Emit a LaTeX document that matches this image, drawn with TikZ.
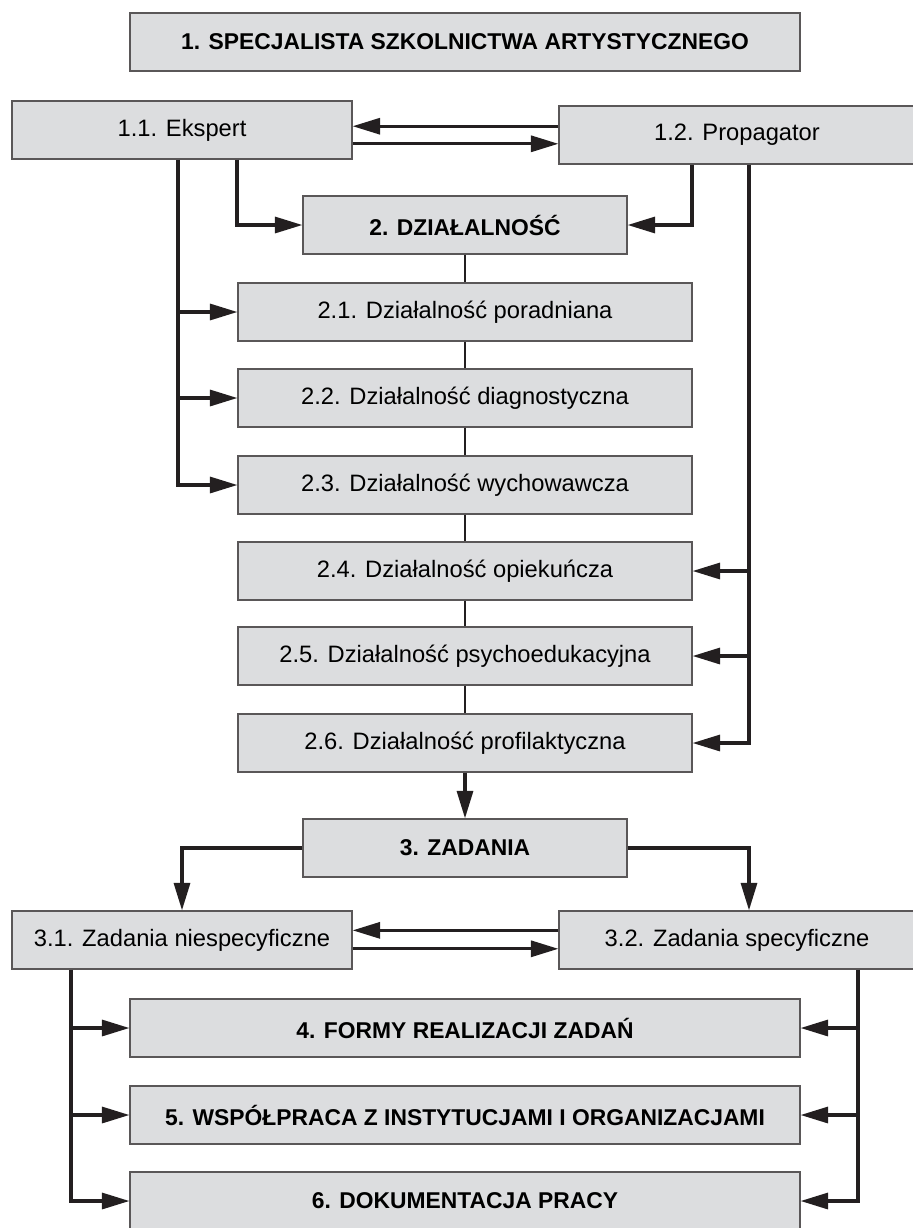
\documentclass[tikz,border=0pt]{standalone}
\usepackage{fontspec}
\setmainfont{Liberation Sans}
\usetikzlibrary{arrows.meta}
\definecolor{boxgray}{HTML}{DCDDDF}
\definecolor{ink}{HTML}{231F20}

\begin{document}
\begin{tikzpicture}[x=0.02cm, y=-0.02cm,
box/.style={draw=ink!75, fill=boxgray, line width=0.7pt, inner sep=0pt, minimum height=1.16cm, font=\fontsize{13.5}{16}\selectfont},
hbox/.style={box, font=\fontsize{13}{16}\selectfont\bfseries},
arr/.style={draw=ink, line width=1.8pt, -{Triangle[length=0.55cm,width=0.32cm]}},
link/.style={draw=ink, line width=1.4pt}]

\useasboundingbox (0,0) rectangle (913,1228);

% top
\node[hbox, minimum width=13.4cm] (spec) at (465,42) {1. SPECJALISTA SZKOLNICTWA ARTYSTYCZNEGO};

\node[box, minimum width=6.8cm] (ekspert) at (182,130) {1.1. Ekspert};
\node[box, minimum width=7.12cm] (propag) at (737,135) {1.2. Propagator};

\draw[arr] ([yshift=5pt]propag.west) -- ([yshift=5pt]propag.west -| ekspert.east);
\draw[arr] ([yshift=-5pt]propag.west -| ekspert.east) -- ([yshift=-5pt]propag.west);

% dzialalnosc
\node[hbox, minimum width=6.48cm] (dzial) at (465,225) {2. DZIAŁALNOŚĆ};

\node[box, minimum width=9.08cm] (d1) at (465,312) {2.1. Działalność poradniana};
\node[box, minimum width=9.08cm] (d2) at (465,398) {2.2. Działalność diagnostyczna};
\node[box, minimum width=9.08cm] (d3) at (465,485) {2.3. Działalność wychowawcza};
\node[box, minimum width=9.08cm] (d4) at (465,571) {2.4. Działalność opiekuńcza};
\node[box, minimum width=9.08cm] (d5) at (465,656) {2.5. Działalność psychoedukacyjna};
\node[box, minimum width=9.08cm] (d6) at (465,743) {2.6. Działalność profilaktyczna};

\draw[link] (dzial) -- (d1);
\draw[link] (d1) -- (d2);
\draw[link] (d2) -- (d3);
\draw[link] (d3) -- (d4);
\draw[link] (d4) -- (d5);
\draw[link] (d5) -- (d6);

\draw[arr] ([xshift=1.1cm]ekspert.south) |- (dzial.west);
\draw[arr] ([xshift=-0.9cm]propag.south) |- (dzial.east);

\coordinate (lt) at ([xshift=-0.08cm]ekspert.south);
\coordinate (rt) at ([xshift=0.24cm]propag.south);
\draw[arr] (lt) |- (d3.west);
\draw[arr] (lt |- d1.west) -- (d1.west);
\draw[arr] (lt |- d2.west) -- (d2.west);
\draw[arr] (rt) |- (d6.east);
\draw[arr] (rt |- d4.east) -- (d4.east);
\draw[arr] (rt |- d5.east) -- (d5.east);

% zadania
\node[hbox, minimum width=6.48cm] (zad) at (465,848) {3. ZADANIA};
\draw[arr] (d6) -- (zad);

\node[box, minimum width=6.8cm] (z1) at (182,940) {3.1. Zadania niespecyficzne};
\node[box, minimum width=7.12cm] (z2) at (737,940) {3.2. Zadania specyficzne};

\draw[arr] (zad.west) -| (z1.north);
\draw[arr] (zad.east) -| ([xshift=0.24cm]z2.north);

\draw[arr] ([yshift=5.5pt]z2.west) -- ([yshift=5.5pt]z2.west -| z1.east);
\draw[arr] ([yshift=-5pt]z2.west -| z1.east) -- ([yshift=-5pt]z2.west);

% 4-6
\node[hbox, minimum width=13.4cm] (f4) at (465,1028) {4. FORMY REALIZACJI ZADAŃ};
\node[hbox, minimum width=13.4cm] (f5) at (465,1115) {5. WSPÓŁPRACA Z INSTYTUCJAMI I ORGANIZACJAMI};
\node[hbox, minimum width=13.4cm] (f6) at (465,1201) {6. DOKUMENTACJA PRACY};

\coordinate (zl) at ([xshift=-2.22cm]z1.south);
\coordinate (zr) at ([xshift=2.42cm]z2.south);
\draw[arr] (zl) |- (f6.west);
\draw[arr] (zl |- f4.west) -- (f4.west);
\draw[arr] (zl |- f5.west) -- (f5.west);
\draw[arr] (zr) |- (f6.east);
\draw[arr] (zr |- f4.east) -- (f4.east);
\draw[arr] (zr |- f5.east) -- (f5.east);

\end{tikzpicture}
\end{document}
